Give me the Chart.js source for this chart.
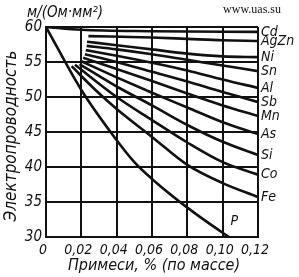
<!DOCTYPE html>
<html>
<head>
<meta charset="utf-8">
<script src="https://cdn.jsdelivr.net/npm/chart.js@4"></script>
<style>
  html, body { margin: 0; padding: 0; background: #fff; }
  #wrap { width: 299px; height: 277px; position: relative; }
</style>
</head>
<body>
<div id="wrap"><canvas id="chart"></canvas></div>
<script>
// impurity content, % by mass, and conductivity, m/(Ohm*mm2)
const seriesNames = ['Cd', 'AgZn', 'Ni', 'Sn', 'Al', 'Sb', 'Mn', 'As', 'Si', 'Co', 'Fe', 'P'];

const cdX = [0, 0.02, 0.06, 0.12];
const cdY = [60, 59.6, 59.4, 59.3];
const agznX = [0.024, 0.06, 0.08, 0.10, 0.12];
const agznY = [58.7, 58.5, 58.3, 58.1, 58.0];
const niX = [0.0232, 0.04, 0.06, 0.08, 0.10, 0.12];
const niY = [57.9, 57.4, 56.8, 56.2, 55.8, 55.7];
const snX = [0.023, 0.04, 0.06, 0.08, 0.10, 0.12];
const snY = [57.3, 56.8, 56.1, 55.3, 54.5, 53.7];
const alX = [0.0225, 0.04, 0.06, 0.08, 0.10, 0.12];
const alY = [56.7, 55.9, 54.9, 53.8, 52.5, 51.3];
const sbX = [0.022, 0.04, 0.06, 0.08, 0.10, 0.12];
const sbY = [56.1, 55.0, 53.6, 52.2, 50.7, 49.3];
const mnX = [0.021, 0.04, 0.06, 0.08, 0.10, 0.12];
const mnY = [55.6, 54.0, 52.3, 50.5, 48.8, 47.3];
const asX = [0.020, 0.04, 0.06, 0.08, 0.10, 0.12];
const asY = [55.1, 52.8, 50.6, 48.5, 46.4, 44.7];
const siX = [0.019, 0.04, 0.06, 0.08, 0.10, 0.12];
const siY = [54.7, 51.5, 48.8, 46.0, 43.6, 41.7];
const coX = [0.0164, 0.04, 0.06, 0.08, 0.10, 0.12];
const coY = [54.6, 50.0, 46.7, 43.5, 40.7, 38.9];
const feX = [0.0145, 0.028, 0.04, 0.06, 0.08, 0.10, 0.12];
const feY = [54.4, 51.0, 48.3, 44.3, 40.3, 37.7, 35.7];
const pX = [0, 0.02, 0.038, 0.05, 0.06, 0.08, 0.10, 0.1035];
const pY = [60, 51.0, 44.5, 40.7, 38.3, 34.2, 30.6, 30];

const xTicks = [0, 0.02, 0.04, 0.06, 0.08, 0.10, 0.12];
const yTicks = [30, 35, 40, 45, 50, 55, 60];

const seriesX = [cdX, agznX, niX, snX, alX, sbX, mnX, asX, siX, coX, feX, pX];
const seriesY = [cdY, agznY, niY, snY, alY, sbY, mnY, asY, siY, coY, feY, pY];

const ink = '#111';
const tickFont = "'DejaVu Sans Condensed', 'DejaVu Sans', sans-serif";

const datasets = seriesNames.map((name, i) => ({
  label: name,
  data: seriesX[i].map((x, j) => ({ x: x, y: seriesY[i][j] })),
  borderColor: ink,
  borderWidth: 2.6,
  pointRadius: 0,
  fill: false,
  cubicInterpolationMode: 'monotone'
}));

const textPlugin = {
  id: 'texts',
  afterDraw(chart) {
    const ctx = chart.ctx;
    const area = chart.chartArea;
    const xs = chart.scales.x, ys = chart.scales.y;
    ctx.save();
    ctx.fillStyle = ink;

    // curve names on the right
    ctx.font = "italic 14px " + tickFont;
    ctx.textAlign = 'left';
    ctx.textBaseline = 'middle';
    seriesNames.forEach((name, i) => {
      if (name === 'P') return;
      const yv = seriesY[i][seriesY[i].length - 1];
      ctx.fillText(name, area.right + 3, ys.getPixelForValue(yv));
    });
    ctx.fillText('P', xs.getPixelForValue(0.1045), ys.getPixelForValue(32.3));

    // unit
    ctx.font = "italic 15px " + tickFont;
    ctx.textAlign = 'left';
    ctx.fillText('м/(Ом·мм²)', 27, 13, 92);

    // site
    ctx.font = "12px 'Liberation Serif', 'DejaVu Serif', serif";
    ctx.textAlign = 'right';
    ctx.fillText('www.uas.su', 281, 10);

    // x title
    ctx.font = "italic 16px " + tickFont;
    ctx.textAlign = 'center';
    ctx.fillText('Примеси, % (по массе)', 154, 266, 188);

    // y title
    ctx.translate(12, 136);
    ctx.rotate(-Math.PI / 2);
    ctx.font = "italic 17px " + tickFont;
    ctx.fillText('Электропроводность', 0, 0, 208);
    ctx.restore();
  }
};

new Chart(document.getElementById('chart'), {
  type: 'line',
  data: { datasets: datasets },
  options: {
    responsive: true,
    maintainAspectRatio: false,
    animation: false,
    layout: { padding: { left: 0, right: 41, top: 27, bottom: 0 } },
    plugins: {
      legend: { display: false },
      tooltip: { enabled: false }
    },
    scales: {
      x: {
        type: 'linear',
        min: 0,
        max: 0.12,
        afterFit: s => { s.height = 40; },
        afterBuildTicks: s => { s.ticks = xTicks.map(v => ({ value: v })); },
        grid: { color: ink, lineWidth: 2, drawTicks: false },
        border: { color: ink, width: 2 },
        ticks: {
          color: ink,
          padding: 5,
          labelOffset: -3,
          maxRotation: 0,
          font: { family: tickFont, size: 14, style: 'italic' },
          callback: v => v === 0 ? '0' : v.toFixed(2).replace('.', ',')
        }
      },
      y: {
        min: 30,
        max: 60,
        afterFit: s => { s.width = 46; },
        afterBuildTicks: s => { s.ticks = yTicks.map(v => ({ value: v })); },
        grid: { color: ink, lineWidth: 2, drawTicks: false },
        border: { color: ink, width: 2 },
        ticks: {
          color: ink,
          padding: 4,
          font: { family: tickFont, size: 15, style: 'italic' },
          callback: v => String(v)
        }
      }
    }
  },
  plugins: [textPlugin]
});
</script>
</body>
</html>
